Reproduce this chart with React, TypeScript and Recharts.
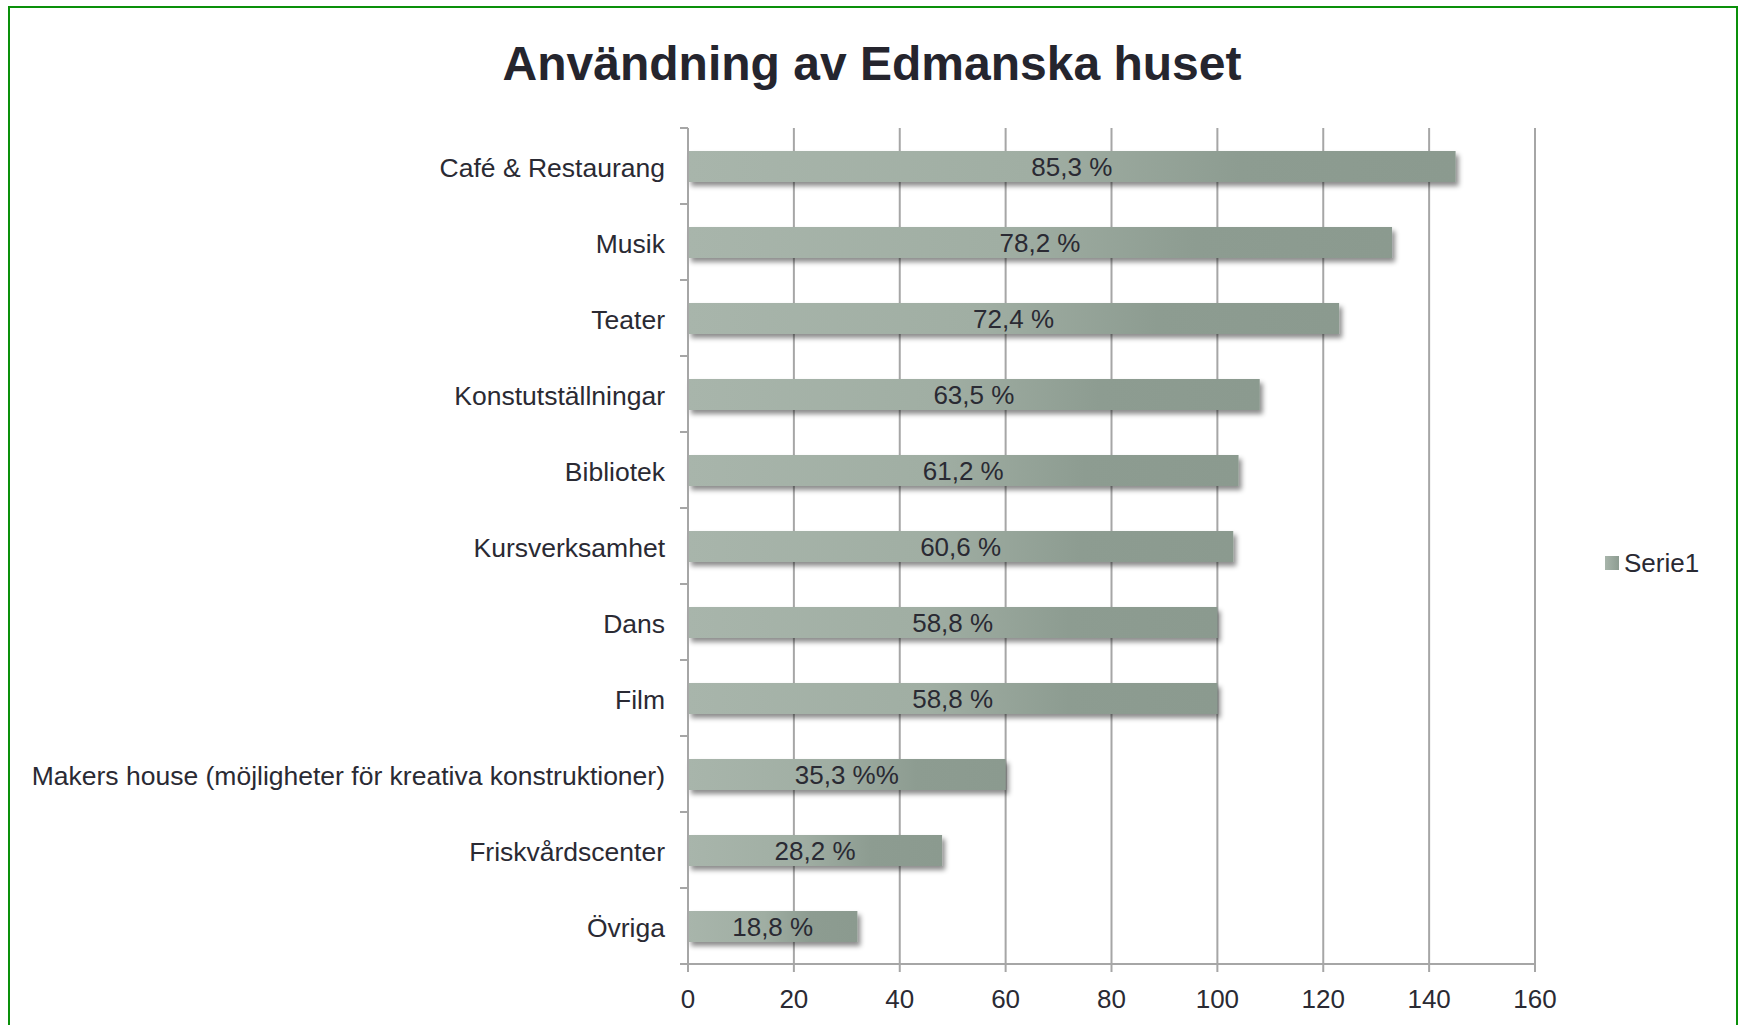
import {
  BarChart,
  Bar,
  XAxis,
  YAxis,
  CartesianGrid,
  LabelList,
} from "recharts";

const categories = [
  "Café & Restaurang",
  "Musik",
  "Teater",
  "Konstutställningar",
  "Bibliotek",
  "Kursverksamhet",
  "Dans",
  "Film",
  "Makers house (möjligheter för kreativa konstruktioner)",
  "Friskvårdscenter",
  "Övriga",
];
const counts = [145, 133, 123, 108, 104, 103, 100, 100, 60, 48, 32];
const percentLabels = [
  "85,3 %",
  "78,2 %",
  "72,4 %",
  "63,5 %",
  "61,2 %",
  "60,6 %",
  "58,8 %",
  "58,8 %",
  "35,3 %%",
  "28,2 %",
  "18,8 %",
];
const xTicks = [0, 20, 40, 60, 80, 100, 120, 140, 160];

const FONT = "'Liberation Sans', Arial, Helvetica, sans-serif";
const TEXT = "#2a2a33";
const AXIS = "#a6a6a6";
const TICK_SIZE = 8;
const TICK_MARGIN = 15;

const data = categories.map((name, i) => ({
  name,
  value: counts[i],
  label: percentLabels[i],
}));

// kategori-etikett + små streck mellan banden (Excel-stil)
const CategoryTick = (props: any) => {
  const { x, y, payload, index } = props;
  const off = payload?.offset ?? 38;
  const lx1 = x + TICK_MARGIN;
  const lx2 = lx1 + TICK_SIZE;
  return (
    <g>
      <line x1={lx1} x2={lx2} y1={y - off} y2={y - off} stroke={AXIS} strokeWidth={2} />
      {index === categories.length - 1 && (
        <line x1={lx1} x2={lx2} y1={y + off} y2={y + off} stroke={AXIS} strokeWidth={2} />
      )}
      <text
        x={x}
        y={y}
        dy="0.42em"
        textAnchor="end"
        fontSize={26.5}
        fill={TEXT}
        fontFamily={FONT}
      >
        {payload.value}
      </text>
    </g>
  );
};

export default function App() {
  return (
    <div
      style={{
        position: "absolute",
        left: 0,
        top: 0,
        width: 1739,
        height: 1025,
        background: "#fff",
        overflow: "hidden",
      }}
    >
      <div
        style={{
          position: "absolute",
          left: 8,
          top: 6,
          width: 1730,
          height: 1100,
          border: "2px solid #0a900a",
          boxSizing: "border-box",
        }}
      />
      <div
        style={{
          position: "absolute",
          left: 0,
          width: 1744,
          top: 40,
          textAlign: "center",
          fontFamily: FONT,
          fontWeight: "bold",
          fontSize: 48,
          lineHeight: "48px",
          color: "#25252e",
        }}
      >
        Användning av Edmanska huset
      </div>
      <div style={{ position: "absolute", left: 0, top: 0 }}>
        <BarChart
          width={1739}
          height={1025}
          data={data}
          layout="vertical"
          margin={{ top: 128, right: 204, bottom: 0, left: 0 }}
          barSize={31}
        >
          <defs>
            <linearGradient id="barFill" x1="0" y1="0" x2="1" y2="0">
              <stop offset="0%" stopColor="#a8b5ab" />
              <stop offset="45%" stopColor="#a0aea3" />
              <stop offset="72%" stopColor="#8d9c91" />
              <stop offset="100%" stopColor="#8b9a8f" />
            </linearGradient>
            <filter id="barShadow" x="-5%" y="-30%" width="115%" height="180%">
              <feDropShadow dx={3} dy={4} stdDeviation={2.5} floodColor="#000" floodOpacity={0.45} />
            </filter>
          </defs>
          <CartesianGrid horizontal={false} stroke={AXIS} strokeWidth={2} />
          <XAxis
            type="number"
            domain={[0, 160]}
            ticks={xTicks}
            interval={0}
            height={61}
            axisLine={{ stroke: AXIS, strokeWidth: 2 }}
            tickLine={{ stroke: AXIS, strokeWidth: 2 }}
            tickSize={TICK_SIZE}
            tickMargin={18}
            tick={{ fontSize: 26, fill: TEXT, fontFamily: FONT }}
          />
          <YAxis
            type="category"
            dataKey="name"
            width={688}
            interval={0}
            axisLine={{ stroke: AXIS, strokeWidth: 2 }}
            tickLine={false}
            tickSize={TICK_SIZE}
            tickMargin={TICK_MARGIN}
            tick={<CategoryTick />}
          />
          <Bar
            dataKey="value"
            name="Serie1"
            fill="url(#barFill)"
            filter="url(#barShadow)"
            isAnimationActive={false}
          >
            <LabelList
              dataKey="label"
              position="center"
              fontSize={26}
              fill={TEXT}
              fontFamily={FONT}
            />
          </Bar>
        </BarChart>
      </div>
      <div
        style={{
          position: "absolute",
          left: 1605,
          top: 550,
          display: "flex",
          alignItems: "center",
          fontFamily: FONT,
        }}
      >
        <div
          style={{
            width: 14,
            height: 14,
            background: "linear-gradient(90deg, #a8b5ab, #8d9c91)",
            marginRight: 5,
          }}
        />
        <span style={{ fontSize: 26, color: TEXT, lineHeight: "26px" }}>Serie1</span>
      </div>
    </div>
  );
}
